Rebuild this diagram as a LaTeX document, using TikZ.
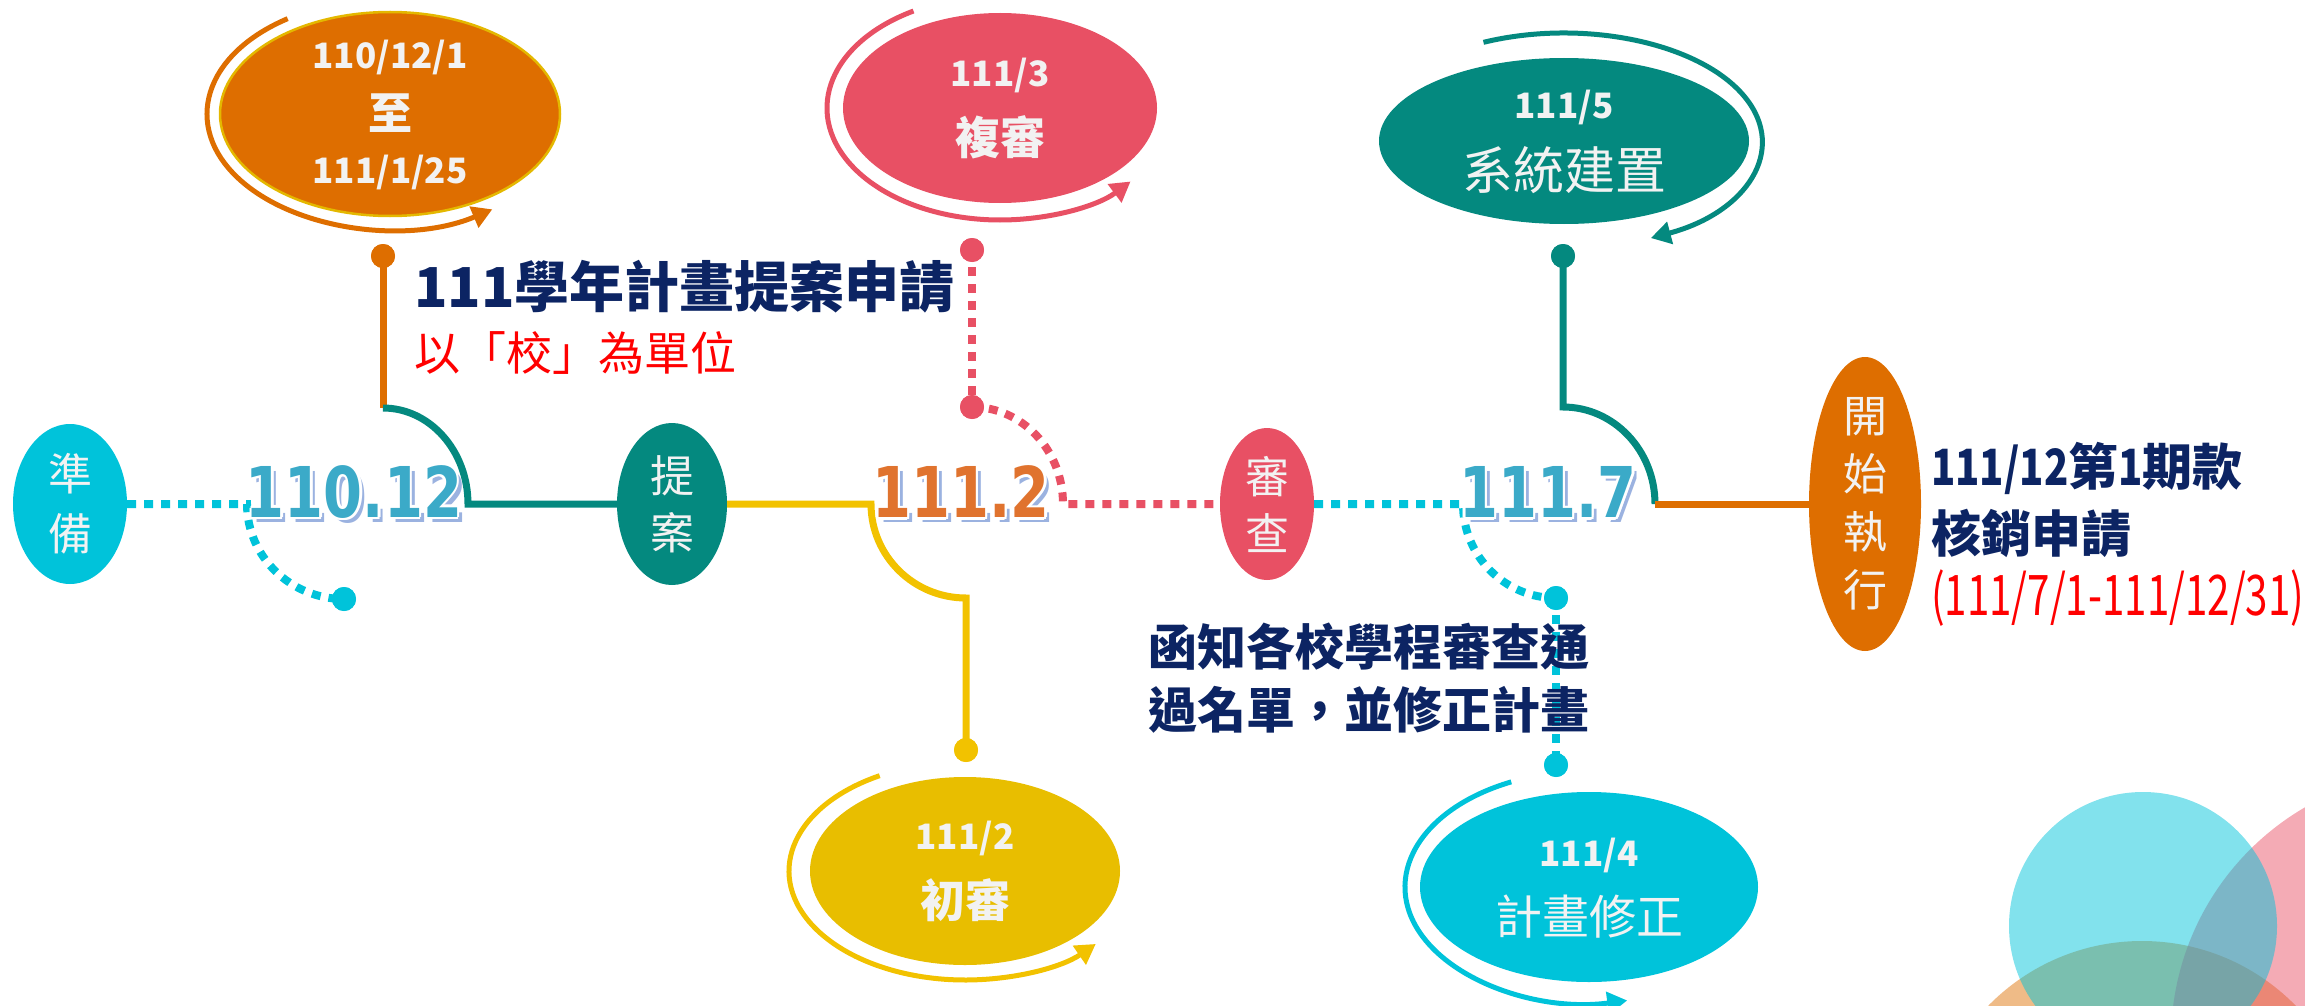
\documentclass[tikz,border=0pt]{standalone}
\usepackage{fontspec}
\usepackage{graphicx}
\setmainfont{Noto Sans CJK TC}
\newfontfamily\numfont[FakeStretch=0.8]{DejaVu Sans}
\usetikzlibrary{shapes.geometric,arrows.meta,calc}
\definecolor{cyanC}{HTML}{00C3DA}
\definecolor{tealC}{HTML}{04897F}
\definecolor{orangeC}{HTML}{DE6E00}
\definecolor{yellowE}{HTML}{E8BE00}
\definecolor{yellowL}{HTML}{F2C200}
\definecolor{redC}{HTML}{E85064}
\definecolor{navyC}{HTML}{0C2463}
\definecolor{numBlue}{HTML}{3BAAC8}
\definecolor{numOrange}{HTML}{E0732E}
\definecolor{numShadow}{HTML}{9BB2E0}
\definecolor{wtext}{HTML}{F2F2F2}
\definecolor{goldE}{HTML}{E4B800}
\definecolor{redT}{HTML}{FF0000}
\tikzset{
 ell/.style={ellipse, inner sep=0pt},
 wtxt/.style={text=wtext, inner sep=0pt},
 solidln/.style={line width=7pt},
 dotln/.style={line width=8pt, dash pattern=on 9pt off 8pt},
 arr/.style={line width=5pt, -{Triangle[length=20pt,width=22pt]}},
 dotc/.style={circle, inner sep=0pt, minimum size=24pt},
 numsty/.style={font=\numfont\bfseries\fontsize{70}{74}\selectfont, inner sep=0pt},
 navytxt/.style={text=navyC, inner sep=0pt, anchor=west},
}
\newcommand\narrowdig[1]{\scalebox{0.8}[1]{#1}}
\newcommand\bignum[4]{%
  \node[numsty, text=numShadow] (#1s) at ($(#2)+(5,5)$) {#3};
  \foreach \dx/\dy [count=\k] in {-2.5/0,2.5/0,0/-2.5,0/2.5,-1.8/-1.8,1.8/1.8,-1.8/1.8,1.8/-1.8}
    \node[numsty, text=white] (#1w\k) at ($(#2)+(\dx,\dy)$) {#3};
  \node[numsty, text=#4] (#1) at (#2) {#3};
}
\begin{document}
\begin{tikzpicture}[x=1pt,y=-1pt]
\path[use as bounding box] (0,0) rectangle (2305,1006);
% decorative circles
\begin{scope}
\clip (0,0) rectangle (2305,1006);
\fill[orangeC, opacity=0.47] (2142,1156) circle[radius=215];
\fill[redC, opacity=0.48] (2440,1040) circle[radius=269];
\fill[cyanC, opacity=0.49] (2143,926) circle[radius=134];
\end{scope}

% main timeline nodes
\node[ell, fill=cyanC, minimum width=114pt, minimum height=160pt] (prep) at (70,504) {};
\node[ell, fill=tealC, minimum width=110pt, minimum height=162pt] (prop) at (672,504) {};
\node[ell, fill=redC, minimum width=94pt, minimum height=152pt] (rev) at (1267,504) {};
\node[ell, fill=orangeC, minimum width=112pt, minimum height=294pt] (exec) at (1865,504) {};

% dots
\node[dotc, fill=orangeC] (d1) at (383,256) {};
\node[dotc, fill=redC] (d2) at (972,250) {};
\node[dotc, fill=redC] (d8) at (972,407) {};
\node[dotc, fill=yellowL] (d3) at (966,750) {};
\node[dotc, fill=tealC] (d4) at (1563,256) {};
\node[dotc, fill=cyanC] (d5) at (344,599) {};
\node[dotc, fill=cyanC] (d6) at (1556,598) {};
\node[dotc, fill=cyanC] (d7) at (1556,765) {};

% connectors
\coordinate (a1) at (247,504);
\draw[dotln, cyanC] (prep.east) -- (a1) arc[start angle=180,end angle=90,x radius=97,y radius=95];
\coordinate (b1) at (383,408);
\draw[solidln, orangeC] (d1.center) -- (b1);
\draw[solidln, tealC] (b1) arc[start angle=270,end angle=360,x radius=85,y radius=96] -- (prop.west);
\coordinate (c1) at (871,504);
\draw[solidln, yellowL] (prop.east) -- (c1) arc[start angle=180,end angle=90,x radius=95,y radius=94] -- (d3.center);
\draw[dotln, redC] (d2.center) -- (d8.center);
\draw[dotln, redC] (d8.center) arc[start angle=270,end angle=360,x radius=91,y radius=97] -- (rev.west);
\coordinate (f1) at (1463,504);
\draw[dotln, cyanC] (rev.east) -- (f1) arc[start angle=180,end angle=90,x radius=93,y radius=94];
\draw[dotln, cyanC] (d6.center) -- (d7.center);
\coordinate (g1) at (1563,407);
\coordinate (g2) at (1655,504);
\draw[solidln, tealC] (d4.center) -- (g1) arc[start angle=270,end angle=360,x radius=92,y radius=97];
\draw[solidln, orangeC] (g2) -- (exec.west);

% redraw dots on top
\node[dotc, fill=orangeC] (d1b) at (d1) {};
\node[dotc, fill=redC] (d2b) at (d2) {};
\node[dotc, fill=redC] (d8b) at (d8) {};
\node[dotc, fill=yellowL] (d3b) at (d3) {};
\node[dotc, fill=tealC] (d4b) at (d4) {};
\node[dotc, fill=cyanC] (d5b) at (d5) {};
\node[dotc, fill=cyanC] (d6b) at (d6) {};
\node[dotc, fill=cyanC] (d7b) at (d7) {};

% vertical labels in main nodes
\node[wtxt, align=center, font=\fontsize{44}{60}\selectfont] (prepT) at (prep) {準\\備};
\node[wtxt, align=center, font=\fontsize{44}{57}\selectfont] (propT) at (prop) {提\\案};
\node[wtxt, align=center, font=\fontsize{44}{57}\selectfont] (revT) at (rev) {審\\查};
\node[wtxt, align=center, font=\fontsize{44}{58}\selectfont] (execT) at (exec) {開\\始\\執\\行};

% date ellipses
\node[ell, fill=orangeC, draw=goldE, line width=2.5pt, minimum width=340pt, minimum height=204pt] (e1) at (390,114) {};
\node[ell, fill=redC, minimum width=314pt, minimum height=190pt] (e2) at (1000,108) {};
\node[ell, fill=yellowE, minimum width=310pt, minimum height=188pt] (e3) at (965,871) {};
\node[ell, fill=tealC, minimum width=370pt, minimum height=166pt] (e4) at (1564,141) {};
\node[ell, fill=cyanC, minimum width=338pt, minimum height=190pt] (e5) at (1589,887) {};

% arc arrows
\draw[arr, orangeC] ($(e1.center)+(236:183 and 115)$) arc[start angle=236, end angle=56, x radius=183, y radius=115];
\draw[arr, redC] ($(e2.center)+(240:173 and 112)$) arc[start angle=240, end angle=41, x radius=173, y radius=112];
\draw[arr, yellowL] ($(e3.center)+(241:176 and 109)$) arc[start angle=241, end angle=42, x radius=176, y radius=109];
\draw[arr, tealC] ($(e4.center)+(246:198 and 108)$) arc[start angle=246, end angle=424, x radius=198, y radius=108];
\draw[arr, cyanC] ($(e5.center)+(245:184 and 116)$) arc[start angle=245, end angle=78, x radius=184, y radius=116];

% texts in date ellipses
\node[wtxt, font=\bfseries\fontsize{35}{40}\selectfont] (e1a) at (390,57) {110/12/1};
\node[wtxt, font=\bfseries\fontsize{44}{48}\selectfont] (e1b) at (390,113) {至};
\node[wtxt, font=\bfseries\fontsize{35}{40}\selectfont] (e1c) at (390,172) {111/1/25};
\node[wtxt, font=\bfseries\fontsize{35}{40}\selectfont] (e2a) at (1000,75) {111/3};
\node[wtxt, font=\bfseries\fontsize{45}{50}\selectfont] (e2b) at (1000,137) {複審};
\node[wtxt, font=\bfseries\fontsize{35}{40}\selectfont] (e3a) at (965,838) {111/2};
\node[wtxt, font=\bfseries\fontsize{45}{50}\selectfont] (e3b) at (965,900) {初審};
\node[wtxt, font=\bfseries\fontsize{35}{40}\selectfont] (e4a) at (1564,107) {111/5};
\node[wtxt, font=\fontsize{51}{56}\selectfont] (e4b) at (1564,170) {系統建置};
\node[wtxt, font=\bfseries\fontsize{35}{40}\selectfont] (e5a) at (1589,855) {111/4};
\node[wtxt, font=\fontsize{47}{52}\selectfont] (e5b) at (1589,917) {計畫修正};

% big numbers
\bignum{n1}{354,492}{110.12}{numBlue}
\bignum{n2}{961,492}{111.2}{numOrange}
\bignum{n3}{1548,492}{111.7}{numBlue}

% descriptive texts
\node[navytxt, font=\bfseries\fontsize{55}{60}\selectfont] (t1) at (414,287) {111學年計畫提案申請};
\node[navytxt, text=redT, font=\fontsize{46}{50}\selectfont] (t2) at (414,353) {以「校」為單位};
\node[navytxt, align=left, font=\bfseries\fontsize{49}{63}\selectfont] (t3) at (1148,678) {函知各校學程審查通\\過名單，並修正計畫};
\node[navytxt, font=\bfseries\fontsize{50}{55}\selectfont] (t4) at (1931,468) {\narrowdig{111/12}第\narrowdig{1}期款};
\node[navytxt, font=\bfseries\fontsize{50}{55}\selectfont] (t5) at (1931,533) {核銷申請};
\node[navytxt, text=redT, font=\fontsize{56}{60}\selectfont] (t6) at (1931,598) {\scalebox{0.72}[1]{(111/7/1-111/12/31)}};
\end{tikzpicture}
\end{document}
